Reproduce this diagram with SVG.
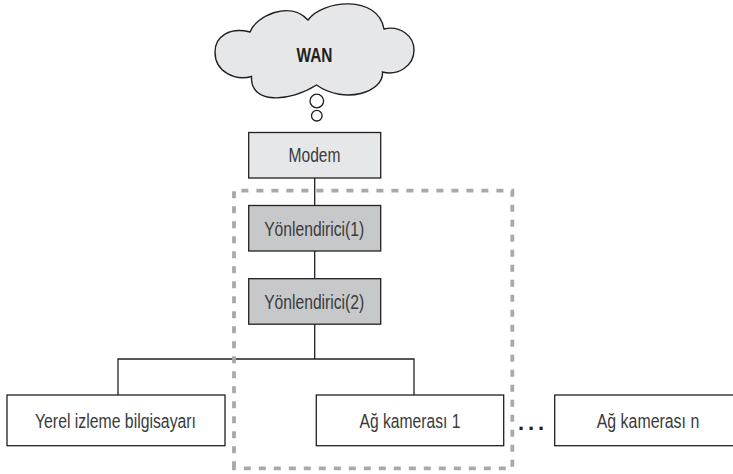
<svg xmlns="http://www.w3.org/2000/svg" width="733" height="474" viewBox="0 0 733 474">
<style>
.box{stroke:#231f20;stroke-width:1.3}
.lt{fill:#e6e7e8}.dk{fill:#c7c8ca}.wh{fill:#fff}
.t{font-family:"Liberation Sans",Arial,sans-serif;font-size:20px;fill:#3a3a3c;text-anchor:middle}
.c{fill:none;stroke:#231f20;stroke-width:1.3}
</style>
<rect width="733" height="474" fill="#fff"/>
<g id="connectors">
<path class="c" d="M314.700 178V278.700M314.700 324V359M118 395V359H414V395"/>
</g>
<path id="boundary" d="M234 468.300V190.700H512.300V468.300Z" fill="none" stroke="#a7a9ac" stroke-width="3.800" stroke-dasharray="7 8"/>
<g id="wan">
<path d="M250 32C256 16 290 0 308 20C322 0 378 -6 384 29C400 25 414 36 414 50C414 66 398 76 382.500 72C384 92 345 105 316.500 85C290 102 250 105 251.500 76.500C235 81 215 72 215 52C215 36 230 27 250 32Z" fill="#e6e7e8" stroke="#231f20" stroke-width="1.400"/>
<circle cx="316.800" cy="101" r="6.800" fill="#fff" stroke="#231f20" stroke-width="1.300"/>
<circle cx="316.800" cy="115.700" r="5.300" fill="#fff" stroke="#231f20" stroke-width="1.300"/>
<text class="t" x="314.500" y="61.500" style="font-weight:700;fill:#231f20" textLength="36" lengthAdjust="spacingAndGlyphs">WAN</text>
</g>
<g id="modem"><rect class="box lt" x="248.700" y="132.500" width="132" height="45.500"/><text class="t" x="314.500" y="162" textLength="52" lengthAdjust="spacingAndGlyphs">Modem</text></g>
<g id="router1"><rect class="box dk" x="248.700" y="205.500" width="132" height="45.500"/><text class="t" x="314.200" y="236" textLength="100" lengthAdjust="spacingAndGlyphs">Yönlendirici(1)</text></g>
<g id="router2"><rect class="box dk" x="248.700" y="278.700" width="132" height="45.500"/><text class="t" x="314.200" y="309" textLength="100" lengthAdjust="spacingAndGlyphs">Yönlendirici(2)</text></g>
<g id="pc"><rect class="box wh" x="7" y="395" width="218" height="50.700"/><text class="t" x="115.500" y="428" textLength="161" lengthAdjust="spacingAndGlyphs">Yerel izleme bilgisayarı</text></g>
<g id="cam1"><rect class="box wh" x="316.300" y="395" width="187.400" height="50.700"/><text class="t" x="410" y="428" textLength="101" lengthAdjust="spacingAndGlyphs">Ağ kamerası 1</text></g>
<text class="t" x="518" y="430" style="text-anchor:start;font-weight:700;font-size:22px;letter-spacing:3.900px;fill:#231f20">...</text>
<g id="camn"><rect class="box wh" x="554.700" y="395" width="179" height="50.700"/><text class="t" x="648" y="428" textLength="102.500" lengthAdjust="spacingAndGlyphs">Ağ kamerası n</text></g>
</svg>
